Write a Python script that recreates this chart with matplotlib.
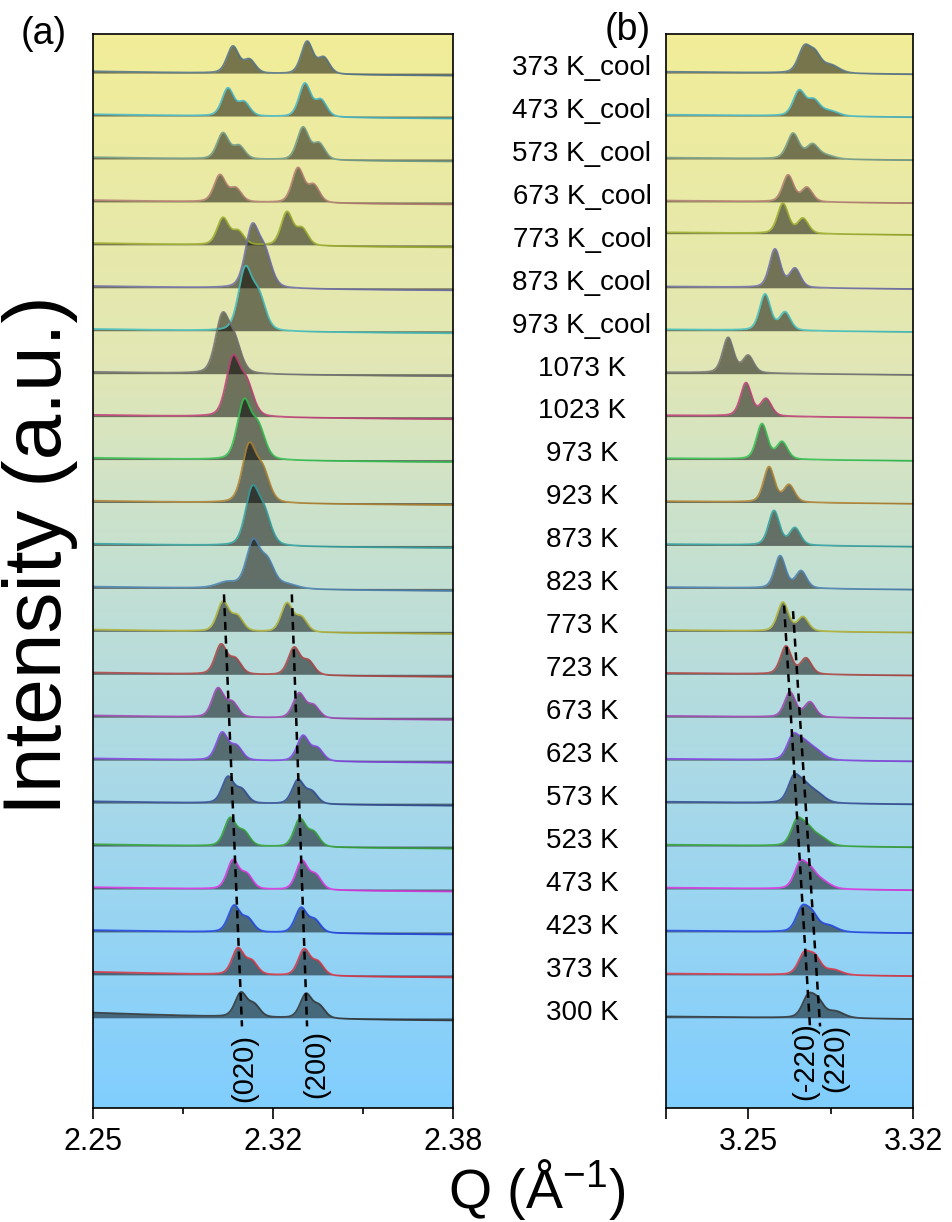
import numpy as np
import matplotlib
matplotlib.use("Agg")
import matplotlib.pyplot as plt
import matplotlib.transforms as mtransforms
from matplotlib.colors import LinearSegmentedColormap

plt.rcParams['font.family'] = ['Liberation Sans', 'DejaVu Sans']
plt.rcParams['mathtext.fontset'] = 'custom'
plt.rcParams['mathtext.rm'] = 'Liberation Sans'
plt.rcParams['mathtext.it'] = 'Liberation Sans:italic'

# Temperature steps, top of the stack first
labels = ['373 K_cool', '473 K_cool', '573 K_cool', '673 K_cool', '773 K_cool',
          '873 K_cool', '973 K_cool', '1073 K', '1023 K', '973 K', '923 K',
          '873 K', '823 K', '773 K', '723 K', '673 K', '623 K', '573 K',
          '523 K', '473 K', '423 K', '373 K', '300 K']
line_colors = ['#50708a', '#3fb5c8', '#6f9a88', '#b07a70', '#9aab2a',
               '#6c6ca8', '#40c0c0', '#707070', '#c03c78', '#30c050',
               '#b08030', '#30a0a0', '#4a80b0', '#b0b030', '#b04040',
               '#a040b0', '#8040e0', '#304890', '#30a030', '#e030e0',
               '#2040e0', '#e03040', '#303030']

# (a) (020)/(200) region: main peak positions and heights (one merged peak at high T)
a_q1 = [2.3005, 2.2987, 2.2969, 2.2958, 2.2969, 2.3074, 2.3049, 2.2966,
        2.3005, 2.3045, 2.3063, 2.3074, 2.3078, 2.2969, 2.2962, 2.2951,
        2.2966, 2.2987, 2.2995, 2.3005, 2.3009, 2.3023, 2.3034]
a_h1 = [0.62, 0.64, 0.60, 0.62, 0.62, 1.36, 1.39, 1.27, 1.32, 1.32, 1.29,
        1.25, 1.06, 0.68, 0.68, 0.66, 0.63, 0.60, 0.64, 0.66, 0.60, 0.60, 0.55]
a_q2 = [2.3273, 2.3265, 2.3258, 2.3240, 2.3200, np.nan, np.nan, np.nan,
        np.nan, np.nan, np.nan, np.nan, np.nan, 2.3200, 2.3226, 2.3244,
        2.3258, 2.3240, 2.3247, 2.3254, 2.3251, 2.3262, 2.3269]
a_h2 = [0.75, 0.77, 0.75, 0.80, 0.77, 0, 0, 0, 0, 0, 0, 0, 0,
        0.66, 0.63, 0.57, 0.58, 0.55, 0.64, 0.66, 0.57, 0.60, 0.55]
a_dq = [0.0060, 0.0058, 0.0058, 0.0057, 0.0055, 0.0047, 0.0050, 0.0045,
        0.0050, 0.0052, 0.0050, 0.0045, 0.0052, 0.0052, 0.0052, 0.0052,
        0.0052, 0.0050, 0.0050, 0.0050, 0.0050, 0.0050, 0.0048]
a_bg_left = [0.04] * 21 + [0.07, 0.12]
# broad feet under the 823 K peak
foot_q = [2.2985, 2.3200]
foot_h = [0.14, 0.10]
foot_row = 12

# (b) (-220)/(220) region
b_q1 = [3.2737, 3.2716, 3.2690, 3.2669, 3.2647, 3.2613, 3.2571, 3.2414,
        3.2490, 3.2558, 3.2588, 3.2609, 3.2635, 3.2647, 3.2660, 3.2677,
        3.2690, 3.2694, 3.2707, 3.2720, 3.2728, 3.2737, 3.2754]
b_h1 = [0.56, 0.58, 0.59, 0.62, 0.70, 0.89, 0.84, 0.82, 0.77, 0.82, 0.82,
        0.80, 0.75, 0.67, 0.65, 0.58, 0.54, 0.58, 0.56, 0.56, 0.52, 0.46, 0.47]
b_q2 = [3.2783, 3.2778, 3.2772, 3.2749, 3.2732, 3.2698, 3.2656, 3.2499,
        3.2575, 3.2643, 3.2673, 3.2698, 3.2724, 3.2732, 3.2745, 3.2762,
        3.2735, 3.2738, 3.2750, 3.2763, 3.2771, 3.2783, 3.2796]
b_h2 = [0.40, 0.34, 0.32, 0.33, 0.35, 0.44, 0.42, 0.40, 0.40, 0.40, 0.40,
        0.40, 0.40, 0.33, 0.37, 0.35, 0.27, 0.29, 0.31, 0.33, 0.36, 0.38, 0.34]
b_q3 = [3.2850, 3.2845, 3.2830, np.nan, np.nan, np.nan, np.nan, np.nan,
        np.nan, np.nan, np.nan, np.nan, np.nan, np.nan, np.nan, np.nan,
        3.2780, 3.2785, 3.2800, 3.2810, 3.2840, 3.2860, 3.2870]
b_h3 = [0.18, 0.12, 0.08, 0, 0, 0, 0, 0, 0, 0, 0, 0, 0, 0, 0, 0,
        0.24, 0.24, 0.21, 0.18, 0.15, 0.12, 0.15]
b_shift = [0, 0, 0, 0, 0.26] + [0] * 18

# guide lines (Q at 773 K and 300 K) and their labels
guide_020 = [2.2973, 2.3038]
guide_200 = [2.3218, 2.3273]
guide_m220 = [3.2652, 3.2762]
guide_220 = [3.2690, 3.2805]


def pseudo_voigt(q, center, height, fwhm, eta=0.35):
    x = (q - center) / fwhm
    gauss = np.exp(-4 * np.log(2) * x ** 2)
    lorentz = 1.0 / (1.0 + 4 * x ** 2)
    return height * ((1 - eta) * gauss + eta * lorentz)


n = len(labels)
offsets = [n - 1 - i for i in range(n)]

fig = plt.figure(figsize=(9.52, 12.22), dpi=100)
ax_a = fig.add_axes([93 / 952, 1 - 1108 / 1222, 360 / 952, 1074 / 1222])
ax_b = fig.add_axes([666 / 952, 1 - 1108 / 1222, 247 / 952, 1074 / 1222])

bg_cmap = LinearSegmentedColormap.from_list(
    'bg', [(0.0, '#f1ed98'), (0.3, '#e2e7b4'), (0.5, '#c4e0d2'),
           (0.75, '#a2d7ec'), (1.0, '#80cefe')])
grad = np.linspace(0, 1, 256)[:, None]
for ax in (ax_a, ax_b):
    ax.imshow(grad, cmap=bg_cmap, aspect='auto', extent=[0, 1, 0, 1],
              transform=ax.transAxes, zorder=0)

qa = np.linspace(2.25, 2.38, 1400)
qb = np.linspace(3.215, 3.32, 1200)

for i in range(n):
    off = offsets[i]
    single = a_h2[i] == 0
    w = 0.0058 if single else 0.0050
    ratio = 0.55 if single else 0.5
    frac = (qa - qa[0]) / (qa[-1] - qa[0])
    ya = a_bg_left[i] * (1 - frac) ** 2 - 0.06 * frac
    ya += pseudo_voigt(qa, a_q1[i], a_h1[i], w, eta=0.3)
    ya += pseudo_voigt(qa, a_q1[i] + a_dq[i], a_h1[i] * ratio, w, eta=0.3)
    if not single:
        ya += pseudo_voigt(qa, a_q2[i], a_h2[i], w, eta=0.3)
        ya += pseudo_voigt(qa, a_q2[i] + a_dq[i], a_h2[i] * ratio, w, eta=0.3)
    if i == foot_row:
        for fq, fh in zip(foot_q, foot_h):
            ya += pseudo_voigt(qa, fq, fh, 0.009, eta=0.5)
    ax_a.fill_between(qa, off, off + ya, color='black', alpha=0.5,
                      lw=0, zorder=2)
    ax_a.plot(qa, off + ya, color=line_colors[i], lw=1.3, alpha=0.85, zorder=3)

    boff = off + b_shift[i]
    fracb = (qb - qb[0]) / (qb[-1] - qb[0])
    wb = 0.0060 if b_h3[i] > 0 else 0.0055
    yb = 0.03 - 0.06 * fracb
    yb += pseudo_voigt(qb, b_q1[i], b_h1[i], wb, eta=0.3)
    yb += pseudo_voigt(qb, b_q2[i], b_h2[i], wb, eta=0.3)
    if b_h3[i] > 0:
        yb += pseudo_voigt(qb, b_q3[i], b_h3[i], 0.0085, eta=0.3)
    ax_b.fill_between(qb, boff, boff + yb, color='black', alpha=0.5,
                      lw=0, zorder=2)
    ax_b.plot(qb, boff + yb, color=line_colors[i], lw=1.3, alpha=0.85, zorder=3)

# dashed guides from 773 K down to 300 K
row773, row300 = labels.index('773 K'), labels.index('300 K')
y_top = offsets[row773]
y_bot = offsets[row300]
dash = dict(color='black', lw=1.8, ls=(0, (3.2, 2.3)), zorder=5)
for g in (guide_020, guide_200):
    ax_a.plot(g, [y_top + 0.86, y_bot - 0.2], **dash)
ax_b.plot(guide_m220, [y_top + 0.6, y_bot - 0.2], **dash)
ax_b.plot(guide_220, [y_top + 0.47, y_bot - 0.2], **dash)

lab_kw = dict(rotation=90, fontsize=21, ha='center', va='center', zorder=6)
ax_a.text(guide_020[1] + 0.0007, y_bot - 1.17, '(020)', **lab_kw)
ax_a.text(guide_200[1] + 0.0032, y_bot - 1.08, '(200)', **lab_kw)
ax_b.text(guide_m220[1] - 0.0022, y_bot - 1.02, '(-220)', **lab_kw)
ax_b.text(guide_220[1] + 0.0063, y_bot - 0.94, '(220)', **lab_kw)

for ax in (ax_a, ax_b):
    ax.set_ylim(-2.10, 22.91)
    ax.set_yticks([])
    for s in ax.spines.values():
        s.set_linewidth(1.2)
        s.set_zorder(7)
    ax.tick_params(axis='x', which='both', direction='out', width=1.2,
                   labelsize=22, pad=6, top=False)
    ax.tick_params(axis='x', which='major', length=8)
    ax.tick_params(axis='x', which='minor', length=4)

ax_a.set_xlim(2.25, 2.38)
ax_a.set_xticks([2.25, 2.315, 2.38])
ax_a.set_xticklabels(['2.25', '2.32', '2.38'])
ax_a.set_xticks([2.2825, 2.3475], minor=True)

ax_b.set_xlim(3.215, 3.32)
ax_b.set_xticks([3.215, 3.25, 3.32])
ax_b.set_xticklabels(['', '3.25', '3.32'])
ax_b.set_xticks([3.285], minor=True)

# temperature labels between the panels
trans = mtransforms.blended_transform_factory(fig.transFigure, ax_a.transData)
for i in range(n):
    fig.text(582 / 952, offsets[i] + 0.12, labels[i], transform=trans,
             fontsize=20, ha='center', va='center')

fig.text(40 / 952, 1 - 555 / 1222, 'Intensity (a.u.)', rotation=90,
         fontsize=59, ha='center', va='center')
fig.text(537 / 952, 1 - 1190 / 1222, 'Q (Å$^{-1}$)', fontsize=40,
         ha='center', va='center')
fig.text(44 / 952, 1 - 34 / 1222, '(a)', fontsize=27, ha='center', va='center')
fig.text(628 / 952, 1 - 30 / 1222, '(b)', fontsize=27, ha='center', va='center')

fig.savefig('out.png', dpi=100)
